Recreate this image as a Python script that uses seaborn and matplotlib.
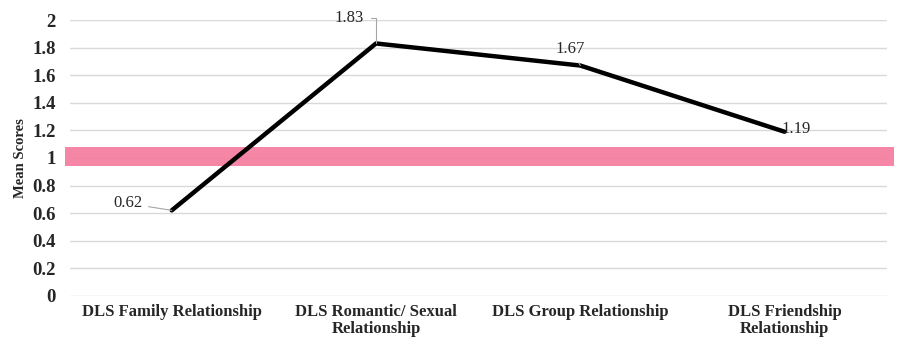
import pandas as pd
import matplotlib.pyplot as plt
import seaborn as sns

categories = ['DLS Family Relationship', 'DLS Romantic/ Sexual\nRelationship',
              'DLS Group Relationship', 'DLS Friendship\nRelationship']
mean_scores = [0.62, 1.83, 1.67, 1.19]
value_labels = ['0.62', '1.83', '1.67', '1.19']
y_ticks = [0, 0.2, 0.4, 0.6, 0.8, 1, 1.2, 1.4, 1.6, 1.8, 2]
y_tick_labels = ['0', '0.2', '0.4', '0.6', '0.8', '1', '1.2', '1.4', '1.6', '1.8', '2']
band_low, band_high = 0.94, 1.08

df = pd.DataFrame({'pos': range(len(categories)), 'score': mean_scores})

sns.set_style('white')
plt.rcParams['font.family'] = ['Liberation Serif', 'DejaVu Serif']

fig = plt.figure(figsize=(9.16, 3.51), dpi=100)
ax = fig.add_axes([0.076, 0.157, 0.892, 0.786])

ax.axhspan(band_low, band_high, xmin=-0.006, xmax=1.009, color='#f4799b',
           alpha=0.9, clip_on=False, zorder=1, lw=0)

sns.lineplot(data=df, x='pos', y='score', color='black', linewidth=3.2, ax=ax,
             zorder=3, solid_capstyle='round')

ax.set_xlim(-0.5, len(categories) - 0.5)
ax.set_ylim(0, 2)
ax.set_yticks(y_ticks)
ax.set_yticklabels(y_tick_labels, fontsize=13.5, fontweight='bold')
ax.set_xticks(range(len(categories)))
ax.set_xticklabels(categories, fontsize=12, fontweight='bold', linespacing=1.05)
ax.tick_params(axis='x', length=0, pad=6)
ax.tick_params(axis='y', length=0, pad=10)
ax.set_xlabel('')
ax.set_ylabel('Mean Scores', fontsize=10.5, fontweight='bold', labelpad=4)
ax.yaxis.grid(True, color='#d9d9d9', linewidth=1)
ax.set_axisbelow(True)
sns.despine(ax=ax, left=True, bottom=True)

gray = dict(arrowstyle='-', color='#a6a6a6', lw=0.8, shrinkA=2, shrinkB=0)

# data labels with leader lines
ax.annotate(value_labels[0], xy=(0, mean_scores[0]), xytext=(-21, 5),
            textcoords='offset points', ha='right', va='center', fontsize=12,
            zorder=4, arrowprops=gray)
ax.annotate(value_labels[1], xy=(1, mean_scores[1]), xytext=(-9, 18),
            textcoords='offset points', ha='right', va='center', fontsize=12,
            zorder=4, arrowprops=dict(gray, shrinkA=3,
                                      connectionstyle='angle,angleA=0,angleB=90,rad=0'))
ax.annotate(value_labels[2], xy=(2, mean_scores[2]), xytext=(-7, 6),
            textcoords='offset points', ha='center', va='bottom', fontsize=12,
            zorder=4, arrowprops=gray)
ax.annotate(value_labels[3], xy=(3, mean_scores[3]), xytext=(8, 2),
            textcoords='offset points', ha='center', va='center', fontsize=12,
            zorder=4)

fig.savefig('out.png', dpi=100)
